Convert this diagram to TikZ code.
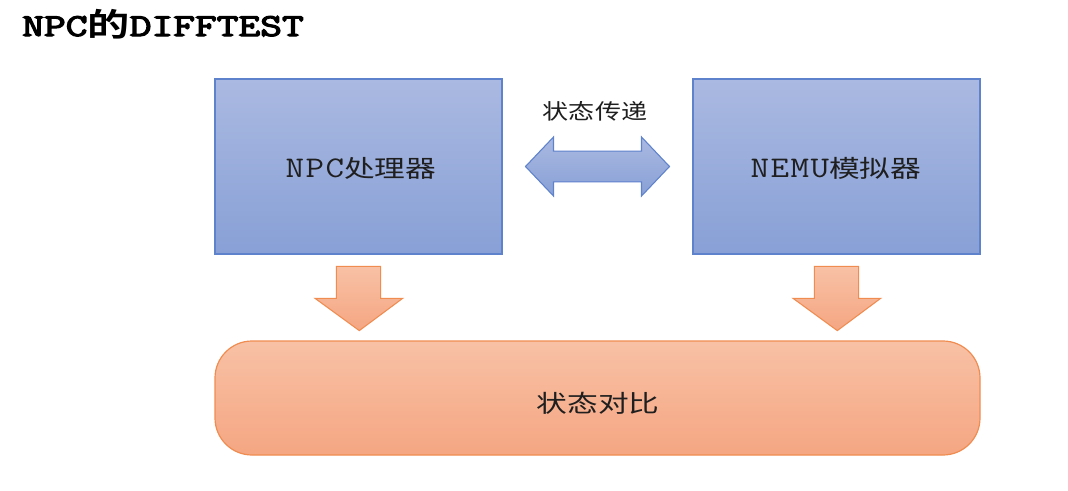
\documentclass[tikz,border=0pt]{standalone}
\usepackage{fontspec}
\usetikzlibrary{calc}
\newfontfamily\cjk{Noto Sans CJK SC}
\newfontfamily\cjkb{Noto Sans CJK SC Bold}
\newfontfamily\lat[LetterSpace=4]{Latin Modern Mono}
\newfontfamily\titlefont[FakeBold=3.5]{Latin Modern Mono}
\newcommand{\wide}[2]{\scalebox{#1}[1]{#2}}
\newcommand{\latw}[1]{\wide{1.2}{\fontsize{22.5pt}{26pt}\lat #1}}
\newcommand{\cjkw}[1]{\wide{1.28}{\cjk #1}}
\definecolor{bluetop}{RGB}{170,185,225}
\definecolor{bluebot}{RGB}{136,160,214}
\definecolor{blueedge}{RGB}{95,130,205}
\definecolor{orgtop}{RGB}{248,193,165}
\definecolor{orgbot}{RGB}{245,166,130}
\definecolor{orgedge}{RGB}{240,140,80}
\tikzset{
  bluebox/.style={draw=blueedge, line width=0.9pt, top color=bluetop, bottom color=bluebot,
    minimum width=215.25pt, minimum height=131.25pt, inner sep=0pt},
  orgbox/.style={draw=orgedge, line width=0.9pt, top color=orgtop, bottom color=orgbot,
    minimum width=573.75pt, minimum height=85.5pt, rounded corners=27.75pt, inner sep=0pt},
  bluearrow/.style={draw=blueedge, line width=0.8pt, top color=bluetop, bottom color=bluebot, line join=miter},
  orgarrow/.style={draw=orgedge, line width=0.8pt, top color=orgtop, bottom color=orgbot, line join=miter},
  boxtext/.style={font=\fontsize{18pt}{22pt}\selectfont, text=black!88, inner sep=0pt},
}
\begin{document}
\begin{tikzpicture}[x=0.75pt,y=-0.75pt]
\useasboundingbox (0,0) rectangle (1068,490);
\fill[white] (0,0) rectangle (1068,490);
% title
\node[anchor=base west, inner sep=0pt, font=\fontsize{24pt}{28pt}\selectfont] (title) at (22,36)
  {\wide{1.32}{\titlefont NPC{\cjkb 的}DIFFTEST}};
% boxes
\node[bluebox] (L) at (358.5,166.5) {};
\node[bluebox] (R) at (836.5,166.5) {};
\node[orgbox] (B) at (597.5,398) {};
\node[boxtext] (Lt) at (361,168) {\latw{NPC}\cjkw{处理器}};
\node[boxtext] (Rt) at (836,168) {\latw{NEMU}\cjkw{模拟器}};
\node[boxtext] (Bt) at (598,403) {\cjkw{状态对比}};
\node[boxtext, font=\fontsize{16pt}{20pt}\selectfont] (lab) at (595,111) {\wide{1.22}{\cjk 状态传递}};
% double arrow between L and R
\begin{scope}[shift={($(L.east)!0.5!(R.west)$)}]
\path[bluearrow] (-72,0) -- (-44,-29.5) -- (-44,-15.3) -- (44,-15.3) -- (44,-29.5)
  -- (72,0) -- (44,29.5) -- (44,15.3) -- (-44,15.3) -- (-44,29.5) -- cycle;
\end{scope}
% down arrows
\foreach \b in {L,R}{
\begin{scope}[shift={(\b.south)}]
\path[orgarrow] (-22.2,11.7) -- (22.2,11.7) -- (22.2,43.7) -- (44.2,43.7) -- (0.8,76)
  -- (-43.5,43.7) -- (-22.2,43.7) -- cycle;
\end{scope}
}
\end{tikzpicture}
\end{document}
